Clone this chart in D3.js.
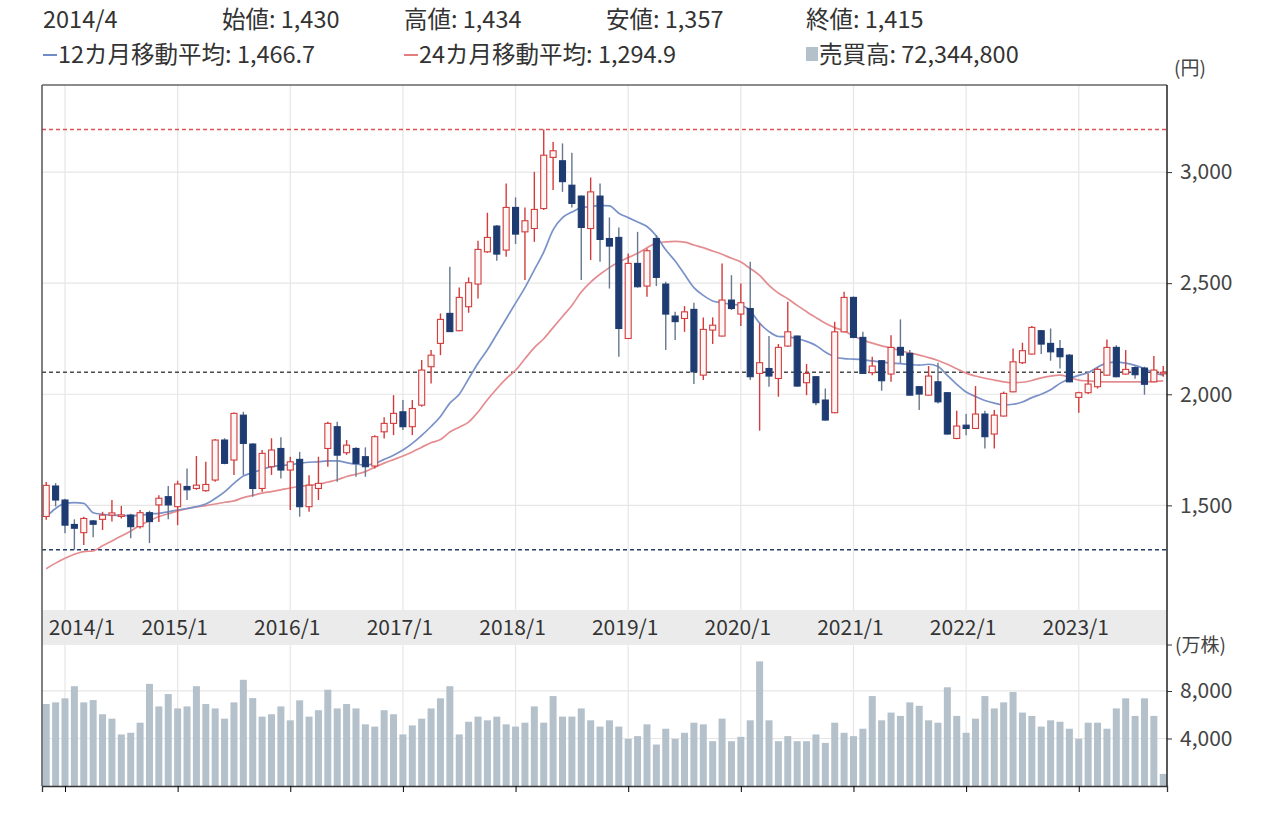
<!DOCTYPE html>
<html>
<head>
<meta charset="utf-8">
<script src="https://cdn.jsdelivr.net/npm/d3@7"></script>
<style>
  body { margin: 0; background: #fff; }
  text { font-family: "Noto Sans CJK JP", "Noto Sans", sans-serif; }
</style>
</head>
<body>
<script>
// monthly data, 2013/11 .. 2023/10
var startYear = 2013, startMonth = 11;

var opens = [1450,1587,1524,1414,1377,1430,1437,1456,1450,1456,
  1404,1467,1502,1539,1494,1585,1576,1566,1614,1794,
  1704,1906,1776,1576,1674,1756,1659,1707,1494,1576,
  1756,1854,1737,1756,1719,1677,1831,1869,1921,1854,
  1951,2124,2229,2364,2286,2394,2496,2641,2757,2649,
  2841,2731,2746,2836,3066,3051,2941,2892,2746,2892,
  2701,2706,2251,2589,2487,2701,2496,2352,2341,2382,
  2086,2289,2262,2424,2361,2386,2094,2116,2071,2217,
  2262,2052,2079,1974,1917,2281,2436,2256,2097,2151,
  2091,2211,2184,2034,1996,2056,2007,1801,1861,1846,
  1911,1821,1902,2011,2142,2181,2286,2229,2206,2176,
  1986,2007,2034,2086,2211,2091,2120,2118,2056,2092];

var highs = [1605,1600,1530,1437,1449,1434,1471,1524,1497,1462,
  1479,1476,1545,1587,1611,1666,1722,1696,1799,1802,
  1918,1921,1780,1749,1802,1806,1719,1741,1636,1719,
  1876,1876,1794,1762,1761,1816,1896,1996,1974,1974,
  2154,2199,2364,2574,2481,2526,2691,2817,2762,2949,
  2886,2841,3001,3192,3136,3129,3087,2895,2976,2949,
  2796,2751,2634,2731,2656,2716,2506,2371,2397,2412,
  2346,2346,2589,2536,2499,2596,2319,2262,2226,2416,
  2264,2136,2082,2026,2326,2461,2440,2281,2169,2154,
  2266,2337,2199,2037,2127,2142,2010,1926,1911,2037,
  1926,1929,2012,2206,2232,2307,2289,2296,2244,2181,
  2011,2094,2121,2247,2221,2199,2126,2124,2172,2127];

var lows = [1435,1495,1374,1300,1321,1357,1389,1427,1441,1352,
  1396,1330,1425,1437,1411,1524,1570,1561,1606,1685,
  1637,1637,1539,1561,1637,1621,1479,1449,1471,1524,
  1674,1606,1727,1629,1629,1666,1801,1816,1839,1816,
  1944,2049,2176,2280,2284,2367,2431,2636,2601,2619,
  2676,2514,2686,2829,2919,2911,2841,2514,2604,2596,
  2476,2169,2250,2480,2439,2487,2199,2244,2281,2046,
  2064,2226,2260,2379,2307,2064,1836,2034,1989,2214,
  2034,1996,1951,1881,1915,2279,2252,2092,2086,2016,
  2056,2139,1994,1929,1994,1959,1819,1798,1816,1845,
  1756,1756,1900,2009,2136,2179,2181,2151,2116,2054,
  1917,2001,2026,2084,2076,2089,2070,1998,2054,2079];

var closes = [1590,1524,1411,1397,1441,1415,1456,1466,1457,1404,
  1467,1427,1532,1502,1596,1570,1591,1594,1794,1689,
  1914,1779,1576,1734,1749,1659,1696,1494,1591,1599,
  1869,1726,1771,1689,1674,1809,1869,1914,1854,1936,
  2109,2176,2337,2282,2436,2502,2652,2706,2631,2841,
  2721,2781,2832,3076,3096,2957,2859,2751,2911,2697,
  2667,2296,2589,2484,2646,2526,2361,2327,2371,2101,
  2292,2311,2424,2386,2412,2079,2142,2082,2211,2281,
  2037,2094,1962,1884,2281,2436,2256,2094,2127,2061,
  2211,2176,1996,2001,2082,1966,1821,1857,1846,1911,
  1809,1906,2004,2146,2196,2301,2226,2191,2169,2056,
  2007,2046,2112,2211,2079,2112,2088,2045,2109,2099];

// 万株
var volumes = [6900,7040,7380,8400,7040,7234.48,6040,5670,4340,4480,
  5330,8600,6700,7740,6530,6700,8400,6900,6530,5670,
  7040,8940,7400,5840,6040,6700,5530,7210,5840,6380,
  8110,6530,6900,6530,5190,5000,6380,6040,4340,5100,
  5670,6530,7380,8400,4340,5410,5840,5530,5840,5190,
  5000,5330,6700,5330,7570,5840,5840,6530,5530,5000,
  5530,5000,3970,4200,5190,3490,4820,3970,4480,5330,
  5190,3770,5670,3770,4140,5530,10490,5530,3770,4200,
  3770,3770,4340,3630,5330,4480,4200,4820,7570,5530,
  6180,5900,7040,6750,5530,5330,8310,5900,4480,5670,
  7570,6530,7040,7910,6180,5900,5000,5530,5410,4820,
  3970,5330,5330,4820,6530,7380,5900,7380,5900,1020];

var ma12 = [1449,1486,1509,1512,1509,1466.7,1460,1456,1454,1454,
  1455,1461,1464,1471,1479,1486,1494,1506,1531,1561,
  1599,1632,1647,1662,1674,1680,1683,1689,1694,1696,
  1700,1700,1692,1685,1682,1689,1707,1726,1749,1779,
  1815,1855,1900,1960,2000,2070,2140,2200,2270,2340,
  2410,2480,2560,2640,2740,2795,2820,2840,2845,2850,
  2848,2815,2795,2775,2755,2712,2650,2600,2540,2480,
  2445,2420,2412,2405,2400,2375,2320,2282,2260,2258,
  2250,2238,2220,2190,2168,2160,2158,2155,2150,2145,
  2140,2138,2134,2131,2135,2125,2085,2045,2010,1990,
  1972,1960,1952,1955,1965,1985,2000,2020,2049,2070,
  2085,2097,2122,2140,2145,2140,2130,2115,2097,2086];

var ma24 = [1215,1240,1262,1280,1292,1294.9,1318,1340,1362,1385,
  1410,1430,1450,1462,1475,1485,1493,1499,1506,1514,
  1520,1535,1545,1555,1562,1570,1578,1585,1590,1595,
  1605,1615,1630,1640,1652,1672,1690,1706,1722,1740,
  1762,1782,1796,1830,1852,1875,1920,1975,2025,2070,
  2108,2160,2210,2250,2300,2350,2400,2460,2505,2540,
  2570,2595,2615,2635,2660,2680,2686,2688,2685,2672,
  2660,2645,2630,2612,2595,2566,2535,2490,2455,2430,
  2400,2372,2345,2320,2300,2285,2262,2245,2230,2218,
  2208,2196,2186,2176,2165,2152,2135,2115,2095,2082,
  2072,2064,2056,2052,2054,2062,2074,2082,2086,2076,
  2064,2060,2057,2056,2056,2056,2056,2056,2058,2060];

var yearLabels = ["2014/1","2015/1","2016/1","2017/1","2018/1","2019/1","2020/1","2021/1","2022/1","2023/1"];
var priceTicks = [1500, 2000, 2500, 3000];
var volumeTicks = [4000, 8000];

var headerRow1 = [["2014/4", 43], ["始値: 1,430", 222], ["高値: 1,434", 404], ["安値: 1,357", 606], ["終値: 1,415", 806]];

var width = 1279, height = 829;
var L = 42, R = 1167, T = 85, priceB = 610, bandB = 645, volB = 786;
var hover = 5; // month shown in the header (2014/4)

var svg = d3.select("body").append("svg")
    .attr("width", width)
    .attr("height", height);

var n = closes.length;
var x = d3.scaleLinear().domain([-0.45, n - 0.6]).range([L, R]);
var y = d3.scaleLinear().domain([1029, 3392]).range([priceB, T]);
var yv = d3.scaleLinear().domain([0, 11870]).range([volB, bandB]);

function yearIndex(label){
    var yr = +label.split("/")[0];
    return (yr - startYear) * 12 + (1 - startMonth);
}

//grid
var grid = svg.append("g").attr("stroke", "#e6e6e6").attr("stroke-width", 1.2);
grid.selectAll(".vg")
    .data(yearLabels)
    .enter()
    .append("line")
    .attr("x1", function(d){ return x(yearIndex(d)); })
    .attr("x2", function(d){ return x(yearIndex(d)); })
    .attr("y1", T)
    .attr("y2", volB);
grid.selectAll(".hg")
    .data(priceTicks)
    .enter()
    .append("line")
    .attr("x1", L).attr("x2", R)
    .attr("y1", function(d){ return y(d); })
    .attr("y2", function(d){ return y(d); });
grid.selectAll(".hv")
    .data(volumeTicks)
    .enter()
    .append("line")
    .attr("x1", L).attr("x2", R)
    .attr("y1", function(d){ return yv(d); })
    .attr("y2", function(d){ return yv(d); });

//date band
svg.append("rect")
    .attr("x", L).attr("y", priceB)
    .attr("width", R - L).attr("height", bandB - priceB)
    .attr("fill", "#ebebeb");

svg.selectAll(".ylab")
    .data(yearLabels)
    .enter()
    .append("text")
    .attr("x", function(d){ return Math.max(x(yearIndex(d)) - 3, L + 40); })
    .attr("y", 629)
    .attr("text-anchor", "middle")
    .attr("dominant-baseline", "middle")
    .attr("font-size", 21)
    .attr("fill", "#333")
    .text(function(d){ return d; });

//volume
svg.selectAll(".vol")
    .data(volumes)
    .enter()
    .append("rect")
    .attr("x", function(d, i){ return x(i) - 3.5; })
    .attr("y", function(d){ return yv(d); })
    .attr("width", 7)
    .attr("height", function(d){ return volB - yv(d); })
    .attr("fill", "#b4c1cb");

//reference lines
var refs = [
    {v: d3.max(highs), c: "#e05252"},
    {v: closes[n - 1], c: "#4a4a4a"},
    {v: d3.min(lows), c: "#263c6a"}
];
svg.selectAll(".ref")
    .data(refs)
    .enter()
    .append("line")
    .attr("x1", L).attr("x2", R)
    .attr("y1", function(d){ return y(d.v); })
    .attr("y2", function(d){ return y(d.v); })
    .attr("stroke", function(d){ return d.c; })
    .attr("stroke-width", 1.5)
    .attr("stroke-dasharray", "4,3");

//moving averages
var line = d3.line()
    .x(function(d, i){ return x(i); })
    .y(function(d){ return y(d); })
    .curve(d3.curveMonotoneX);
svg.append("path").datum(ma24)
    .attr("d", line).attr("fill", "none")
    .attr("stroke", "#e48d91").attr("stroke-width", 1.7);
svg.append("path").datum(ma12)
    .attr("d", line).attr("fill", "none")
    .attr("stroke", "#7a92c8").attr("stroke-width", 1.7);

//candles
var idx = d3.range(n);
var candles = svg.selectAll(".candle")
    .data(idx)
    .enter()
    .append("g")
    .attr("class", "candle");

candles.append("line")
    .attr("x1", function(i){ return x(i); })
    .attr("x2", function(i){ return x(i); })
    .attr("y1", function(i){ return y(highs[i]); })
    .attr("y2", function(i){ return y(lows[i]); })
    .attr("stroke", function(i){ return closes[i] >= opens[i] ? "#d23c3c" : "#66778e"; })
    .attr("stroke-width", 1.4);

candles.append("rect")
    .attr("x", function(i){ return x(i) - 3; })
    .attr("y", function(i){ return y(Math.max(opens[i], closes[i])); })
    .attr("width", 6)
    .attr("height", function(i){ return Math.max(1.5, Math.abs(y(opens[i]) - y(closes[i]))); })
    .attr("fill", function(i){ return closes[i] >= opens[i] ? "#fff6f6" : "#1e3c72"; })
    .attr("stroke", function(i){ return closes[i] >= opens[i] ? "#d23c3c" : "#1e3c72"; })
    .attr("stroke-width", 1.1);

//frame
svg.append("line").attr("x1", L).attr("x2", L).attr("y1", T).attr("y2", volB)
    .attr("stroke", "#555").attr("stroke-width", 1.5);
svg.append("line").attr("x1", L).attr("x2", R).attr("y1", T).attr("y2", T)
    .attr("stroke", "#666").attr("stroke-width", 1.5);

//bottom axis
var xAxis = d3.axisBottom(x)
    .tickValues(yearLabels.map(yearIndex))
    .tickSize(6)
    .tickFormat("");
svg.append("g")
    .attr("transform", "translate(0," + volB + ")")
    .call(xAxis)
    .call(function(g){ g.select(".domain").attr("stroke", "#333").attr("stroke-width", 1.3); });

//right axes
function styleRight(g){
    g.select(".domain").remove();
    g.selectAll("text").attr("font-size", 21).attr("fill", "#444")
        .attr("font-family", "'Noto Sans CJK JP', 'Noto Sans', sans-serif");
    g.selectAll("line").attr("stroke", "#333");
}
svg.append("g")
    .attr("transform", "translate(" + R + ",0)")
    .call(d3.axisRight(y).tickValues(priceTicks).tickSize(5).tickPadding(8).tickFormat(d3.format(",")))
    .call(styleRight);
svg.append("g")
    .attr("transform", "translate(" + R + ",0)")
    .call(d3.axisRight(yv).tickValues(volumeTicks).tickSize(5).tickPadding(8).tickFormat(d3.format(",")))
    .call(styleRight);
svg.append("line").attr("x1", R).attr("x2", R).attr("y1", T).attr("y2", volB)
    .attr("stroke", "#222").attr("stroke-width", 1.5);
svg.append("line").attr("x1", R).attr("x2", R + 5).attr("y1", bandB).attr("y2", bandB)
    .attr("stroke", "#333");

svg.append("text").attr("x", 1174).attr("y", 75).attr("font-size", 19).attr("fill", "#444").text("(円)");
svg.append("text").attr("x", 1175).attr("y", 652).attr("font-size", 19).attr("fill", "#444").text("(万株)");

//header
svg.selectAll(".h1")
    .data(headerRow1)
    .enter()
    .append("text")
    .attr("x", function(d){ return d[1]; })
    .attr("y", 28)
    .attr("font-size", 23.5)
    .attr("fill", "#333")
    .text(function(d){ return d[0]; });

var row2 = svg.append("g").attr("font-size", 23.5).attr("fill", "#333");
row2.append("line").attr("x1", 43).attr("x2", 57).attr("y1", 55).attr("y2", 55).attr("stroke", "#5f7fc0").attr("stroke-width", 1.8);
row2.append("text").attr("x", 58).attr("y", 63).text("12カ月移動平均: " + d3.format(",.1f")(ma12[hover]));
row2.append("line").attr("x1", 404).attr("x2", 418).attr("y1", 55).attr("y2", 55).attr("stroke", "#e07070").attr("stroke-width", 1.8);
row2.append("text").attr("x", 419).attr("y", 63).text("24カ月移動平均: " + d3.format(",.1f")(ma24[hover]));
row2.append("rect").attr("x", 806).attr("y", 47).attr("width", 12).attr("height", 14).attr("fill", "#b4c1cb");
row2.append("text").attr("x", 819).attr("y", 63).text("売買高: " + d3.format(",")(Math.round(volumes[hover] * 10000)));
</script>
</body>
</html>
